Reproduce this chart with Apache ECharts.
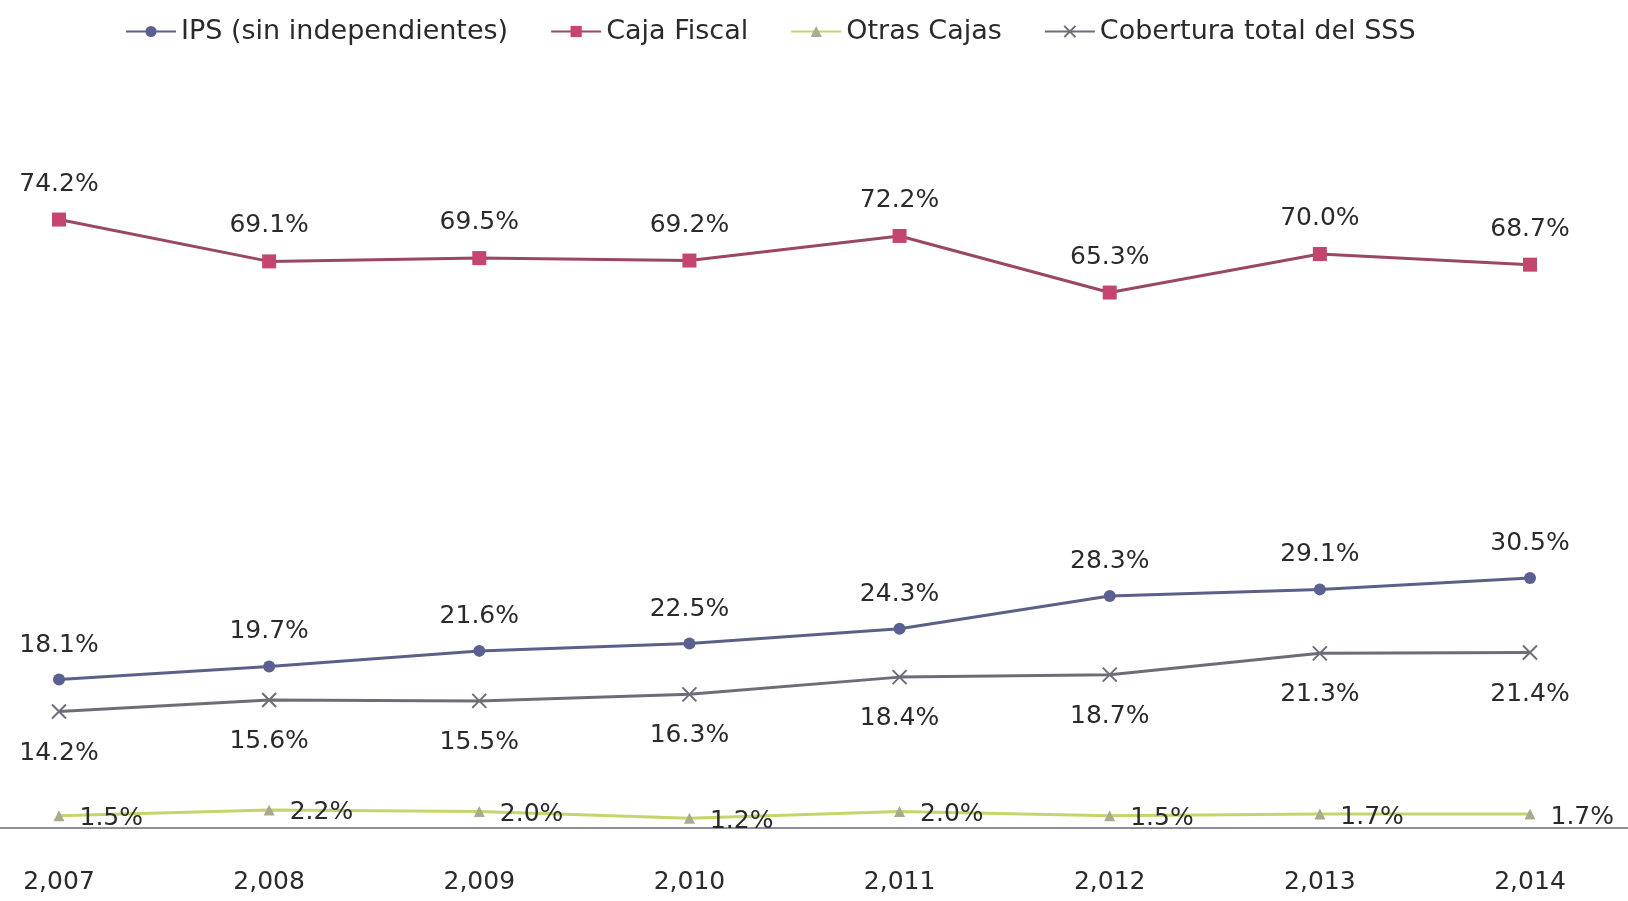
<!DOCTYPE html>
<html>
<head>
<meta charset="utf-8">
<script src="https://cdn.jsdelivr.net/npm/echarts@6/dist/echarts.min.js"></script>
<style>
  html, body { margin: 0; padding: 0; background: #ffffff; }
  #chart { width: 1628px; height: 901px; }
</style>
</head>
<body>
<div id="chart"></div>
<script>
// Years shown along the horizontal axis
const years = ['2,007', '2,008', '2,009', '2,010', '2,011', '2,012', '2,013', '2,014'];

// Coverage rates (%) per scheme
const ips = [18.1, 19.7, 21.6, 22.5, 24.3, 28.3, 29.1, 30.5];
const cajaFiscal = [74.2, 69.1, 69.5, 69.2, 72.2, 65.3, 70.0, 68.7];
const otrasCajas = [1.5, 2.2, 2.0, 1.2, 2.0, 1.5, 1.7, 1.7];
const coberturaTotal = [14.2, 15.6, 15.5, 16.3, 18.4, 18.7, 21.3, 21.4];

const seriesNames = ['IPS (sin independientes)', 'Caja Fiscal', 'Otras Cajas', 'Cobertura total del SSS'];

const labelFont = {
  fontFamily: 'DejaVu Sans',
  fontSize: 25,
  color: '#2a2a2a'
};
const pct = p => p.value.toFixed(1) + '%';

const chart = echarts.init(document.getElementById('chart'));
chart.setOption({
  backgroundColor: '#ffffff',
  animation: false,
  legend: {
    data: seriesNames,
    top: 13,
    left: 120,
    itemWidth: 50,
    itemHeight: 14,
    itemGap: 42,
    textStyle: {
      fontFamily: 'DejaVu Sans',
      fontSize: 27,
      color: '#2a2a2a'
    }
  },
  grid: [
    { left: 59, right: 98, top: 172, bottom: 73 },
    // full-width baseline under the plot
    { left: 0, right: 0, top: 172, bottom: 73 }
  ],
  xAxis: [
    {
      type: 'category',
      gridIndex: 0,
      data: years,
      boundaryGap: false,
      axisLine: { show: false },
      axisTick: { show: false },
      axisLabel: {
        margin: 42,
        fontFamily: 'DejaVu Sans',
        fontSize: 25,
        color: '#2a2a2a'
      }
    },
    {
      type: 'value',
      gridIndex: 1,
      min: 0,
      max: 1,
      axisLine: { show: true, lineStyle: { color: '#8c8f9c', width: 2 } },
      axisTick: { show: false },
      axisLabel: { show: false },
      splitLine: { show: false }
    }
  ],
  yAxis: [
    {
      type: 'value',
      gridIndex: 0,
      min: 0,
      max: 80,
      show: false,
      splitLine: { show: false }
    },
    {
      type: 'value',
      gridIndex: 1,
      min: 0,
      max: 1,
      show: false,
      splitLine: { show: false }
    }
  ],
  series: [
    {
      name: seriesNames[0],
      type: 'line',
      data: ips,
      symbol: 'circle',
      symbolSize: 12,
      lineStyle: { color: '#5b6088', width: 3 },
      itemStyle: { color: '#5a6092' },
      label: { show: true, position: 'top', distance: 16, formatter: pct, ...labelFont },
      z: 4
    },
    {
      name: seriesNames[1],
      type: 'line',
      data: cajaFiscal,
      symbol: 'rect',
      symbolSize: 14,
      lineStyle: { color: '#9a4862', width: 3 },
      itemStyle: { color: '#c4466f' },
      label: { show: true, position: 'top', distance: 16, formatter: pct, ...labelFont },
      z: 4
    },
    {
      name: seriesNames[2],
      type: 'line',
      data: otrasCajas,
      symbol: 'triangle',
      symbolSize: 11,
      lineStyle: { color: '#c6d46c', width: 3 },
      itemStyle: { color: '#a9ab8c' },
      label: { show: true, position: 'right', distance: 15, offset: [0, 3], formatter: pct, ...labelFont },
      z: 3
    },
    {
      name: seriesNames[3],
      type: 'line',
      data: coberturaTotal,
      symbol: 'path://M0,0 L2,2 M2,0 L0,2',
      symbolSize: 14,
      lineStyle: { color: '#6c6d78', width: 3 },
      itemStyle: { color: '#6c6d78', borderColor: '#6c6d78', borderWidth: 2 },
      label: { show: true, position: 'bottom', distance: 21, formatter: pct, ...labelFont },
      z: 4
    }
  ]
});
</script>
</body>
</html>
